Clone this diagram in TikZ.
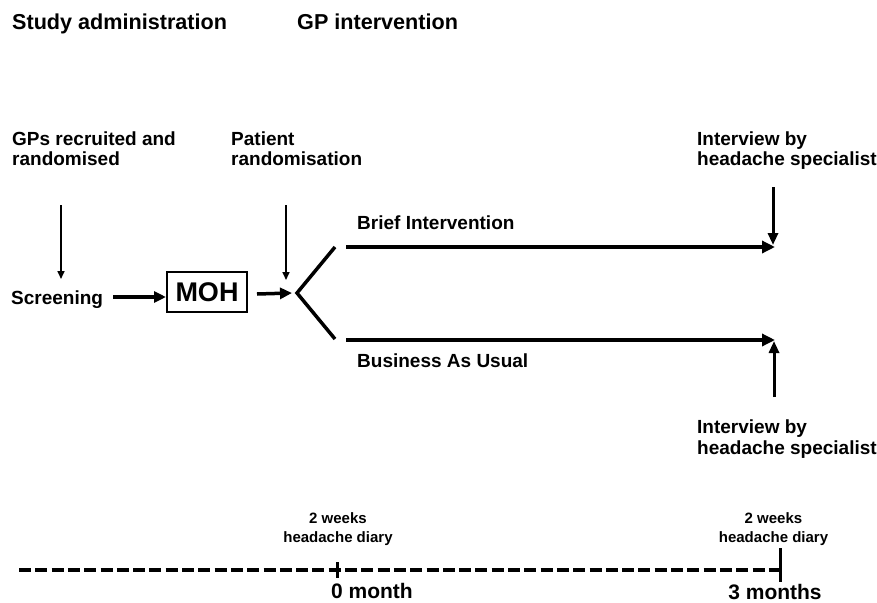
\documentclass[tikz,border=0pt]{standalone}
\usepackage{fontspec}
\setmainfont{Liberation Sans}
\usetikzlibrary{arrows.meta}
\tikzset{
  title/.style={anchor=base west, inner sep=0pt, font=\fontsize{21.6}{26}\selectfont\bfseries},
  lbl/.style={anchor=base west, inner sep=0pt, align=left, font=\fontsize{19}{20.5}\selectfont\bfseries},
  diary/.style={anchor=base, inner sep=0pt, align=center, font=\fontsize{15}{19}\selectfont\bfseries},
  month/.style={anchor=base, inner sep=0pt, font=\fontsize{21}{25}\selectfont\bfseries},
  mohbox/.style={draw, line width=2pt, minimum width=80pt, minimum height=40pt, inner sep=0pt, font=\fontsize{27}{30}\selectfont\bfseries},
  thinarrow/.style={line width=1.6pt, -{Triangle[length=8pt,width=7pt]}},
  thickarrow/.style={line width=3.5pt, -{Triangle[length=12pt,width=11pt]}},
  armarrow/.style={line width=3.3pt, -{Triangle[length=13pt,width=12pt]}},
  intarrow/.style={line width=3pt, -{Triangle[length=12pt,width=10pt]}},
  fork/.style={line width=3.5pt},
  timeline/.style={line width=4pt, dash pattern=on 12pt off 4.3pt},
  tick/.style={line width=3pt}
}
\begin{document}
\begin{tikzpicture}[x=1pt,y=-1pt]
\path[use as bounding box] (0,0) rectangle (877,602);

% headings
\node[title] (sa) at (12,30) {Study administration};
\node[title] (gpi) at (297,30) {GP intervention};

% labels (base anchor = baseline of last line)
\node[lbl] (gps) at (12,165.5) {GPs recruited and\\randomised};
\node[lbl] (pr) at (231,165.5) {Patient\\randomisation};
\node[lbl] (scr) at (11,304) {Screening};
\node[mohbox] (moh) at (207,292) {MOH};
\node[lbl] (bi) at (357,229) {Brief Intervention};
\node[lbl] (bau) at (357,367) {Business As Usual};
\node[lbl] (iv1) at (697,165.5) {Interview by\\headache specialist};
\node[lbl] (iv2) at (697,454) {Interview by\\headache specialist};

% coordinates
\coordinate (gpA) at (61,205);
\coordinate (gpB) at (61,279);
\coordinate (prA) at (286,205);
\coordinate (prB) at (286,280);
\coordinate (scrE) at (113,297);
\coordinate (mohE) at (257,294);
\coordinate (forkV) at (297,293);
\coordinate (forkU) at (335,247);
\coordinate (forkL) at (335,339);
\coordinate (biS) at (346,247);
\coordinate (biE) at (775,247);
\coordinate (bauS) at (346,340);
\coordinate (bauE) at (775,340);
\coordinate (ivA) at (773,187);
\coordinate (ivB) at (773,245);
\coordinate (ivC) at (774,397);
\coordinate (ivD) at (774,341);

% arrows
\draw[thinarrow] (gpA) -- (gpB);
\draw[thinarrow] (prA) -- (prB);
\draw[thickarrow] (scrE) -- (moh.west |- scrE);
\draw[thickarrow] (mohE) -- (forkV -| 292,0);
\draw[fork] (forkU) -- (forkV) -- (forkL);
\draw[armarrow] (biS) -- (biE);
\draw[armarrow] (bauS) -- (bauE);
\draw[intarrow] (ivA) -- (ivB);
\draw[intarrow] (ivC) -- (ivD);

% timeline
\coordinate (tlS) at (19,570);
\coordinate (tlE) at (780,570);
\draw[timeline] (tlS) -- (tlE);
\coordinate (t0a) at (337,562);
\coordinate (t0b) at (337,578);
\coordinate (t3a) at (780,548);
\coordinate (t3b) at (780,582);
\draw[tick] (t0a) -- (t0b);
\draw[tick] (t3a) -- (t3b);

\node[diary] (d0) at (338,542) {2 weeks\\headache diary};
\node[diary] (d3) at (773.5,542) {2 weeks\\headache diary};
\node[month] (m0) at (372,598) {0 month};
\node[month] (m3) at (775,599) {3 months};
\end{tikzpicture}
\end{document}
